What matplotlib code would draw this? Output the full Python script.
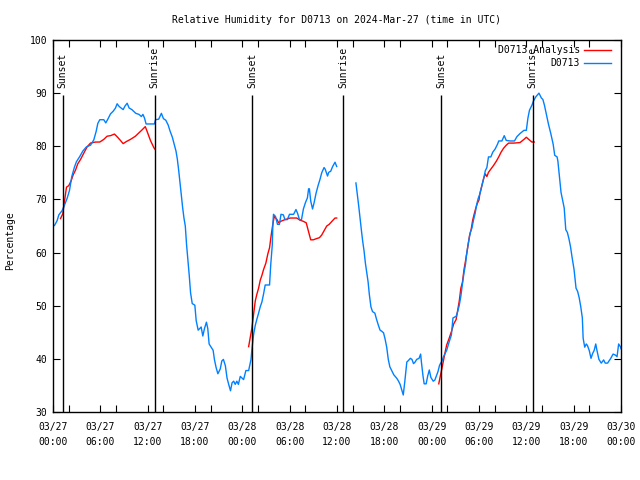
import numpy as np
import matplotlib
matplotlib.use("Agg")
import matplotlib.pyplot as plt
from matplotlib.ticker import FixedLocator

# hours since 2024-03-27 00:00 UTC
blue_h = [0.19, 0.52, 0.74, 1.16, 1.45, 1.79, 2.09, 2.38, 2.72, 2.97, 3.40, 3.78, 4.24, 4.75, 5.17, 5.47,
          5.68, 5.93, 6.44, 6.69, 6.95, 7.29, 7.63, 7.92, 8.13, 8.38, 8.63, 8.89, 9.14, 9.40, 9.65, 10.0,
          10.5, 10.9, 11.2, 11.4, 11.6, 11.8, 12.85, 13.0, 13.4, 13.74, 14.0, 14.3, 14.6, 14.83, 15.13,
          15.34, 15.59, 15.76, 15.93, 16.1, 16.26, 16.43, 16.6, 16.77, 16.93, 17.1, 17.27, 17.44, 17.65,
          17.98, 18.15, 18.4, 18.6, 18.78, 18.99, 19.2, 19.45, 19.62, 19.79, 20.04, 20.3, 20.46, 20.67,
          20.9, 21.2, 21.4, 21.6, 21.85, 22.06, 22.27, 22.5, 22.7, 22.9, 23.1, 23.3, 23.5, 23.74, 23.95,
          24.16, 24.45, 24.8, 25.1, 25.2, 25.43, 25.64, 25.85, 26.06, 26.27, 26.48, 26.69, 26.9, 27.45,
          27.6, 27.8, 27.87, 27.95, 28.2, 28.46, 28.7, 28.9, 29.2, 29.4, 29.7, 29.98, 30.5, 30.8, 31.0,
          31.24, 31.5, 31.74, 32.0, 32.25, 32.4, 32.5, 32.67, 32.9, 33.1, 33.35, 33.6, 33.85, 34.06,
          34.36, 34.5, 34.8, 34.95, 35.2, 35.45, 35.75, 35.96, 37.0,
          38.4, 38.58, 38.75, 38.92, 39.1, 39.26, 39.43, 39.6, 39.77, 39.94, 40.1, 40.3, 40.5, 40.8,
          41.0, 41.25, 41.46, 41.67, 41.9, 42.1, 42.3, 42.5, 42.7, 42.9, 43.2, 43.6, 43.8, 44.0, 44.4,
          44.6, 44.85, 45.06, 45.3, 45.5, 45.7, 45.9, 46.1, 46.4, 46.6, 46.7, 46.9, 47.05, 47.3, 47.5,
          47.7, 47.9, 48.2, 48.4, 48.6, 48.8, 49.0, 49.3, 49.5, 49.9, 50.2, 50.5, 50.7, 51.1, 51.3,
          51.5, 51.7, 51.9, 52.1, 52.3, 52.4, 52.6, 52.9, 53.1, 53.3, 53.5, 53.7, 53.9, 54.1, 54.3,
          54.6, 54.8, 55.0, 55.2, 55.5, 55.75, 56.05, 56.35, 56.5, 56.9, 57.2, 57.45, 57.97, 58.5,
          58.8, 59.2, 59.7, 60.0, 60.2, 60.4, 60.7, 60.9, 61.2, 61.6, 61.9, 62.1, 62.3, 62.6, 62.8,
          63.1, 63.4, 63.6, 63.9, 64.0, 64.2, 64.4, 64.6, 64.8, 65.0, 65.2, 65.4, 65.6, 65.8, 66.05,
          66.3, 66.5, 66.7, 66.9, 67.1, 67.2, 67.4, 67.6, 67.75, 67.97, 68.2, 68.4, 68.6, 68.8, 68.95,
          69.2, 69.5, 69.8, 70.0, 70.3, 70.7, 71.0, 71.3, 71.5, 71.7, 71.96, 72.0]
blue_v = [65.1, 66.0, 67.1, 67.9, 68.9, 70.2, 71.7, 74.3, 76.1, 77.1, 78.1, 79.1, 79.9, 80.2, 81.2, 82.8,
          84.3, 85.0, 85.0, 84.4, 85.1, 86.1, 86.6, 87.2, 88.0, 87.5, 87.2, 86.9, 87.6, 88.1, 87.2, 86.9,
          86.2, 86.0, 85.6, 86.0, 85.3, 84.2, 84.2, 85.0, 85.1, 86.2, 85.2, 84.9, 84.0, 82.9, 81.7,
          80.5, 79.1, 77.6, 75.5, 73.2, 70.9, 68.5, 66.5, 65.0, 61.5, 58.6, 55.7, 52.4, 50.4,
          50.1, 47.2, 45.4, 45.7, 46.0, 44.3, 45.7, 46.9, 45.7, 42.8, 42.2, 41.6, 39.9, 38.4,
          37.2, 38.1, 39.6, 39.9, 38.7, 36.4, 35.2, 34.0, 35.5, 35.8, 35.2, 35.8, 35.2, 36.7, 36.4,
          36.1, 37.8, 37.8, 39.9, 41.6, 44.6, 46.3, 47.5, 48.6, 49.8, 50.7, 52.2, 53.9, 53.9,
          57.7, 61.5, 65.3, 67.2, 66.8, 65.3, 65.3, 67.2, 67.1, 66.2, 66.2, 67.2, 67.2, 68.1, 67.4,
          66.2, 66.2, 68.2, 69.4, 70.3, 72.0, 72.0, 69.7, 68.2, 69.4, 71.2, 72.6, 73.8, 75.0,
          76.0, 75.7, 74.4, 75.1, 75.3, 76.2, 77.0, 76.2, np.nan,
          73.1, 70.9, 68.8, 66.5, 64.1, 62.1, 60.3, 58.0, 56.2, 54.5, 52.1, 49.8, 48.9, 48.6,
          47.5, 46.3, 45.4, 45.2, 44.9, 43.7, 42.2, 39.9, 38.5, 37.9, 37.0, 36.3, 35.8, 35.2, 33.2,
          35.8, 39.4, 39.7, 40.1, 39.9, 39.1, 39.4, 39.9, 40.1, 40.9, 39.4, 36.8, 35.3, 35.3, 36.8,
          37.9, 36.5, 35.8, 36.0, 36.8, 37.6, 38.8, 39.6, 40.4, 41.6, 43.1, 44.5, 47.7, 48.0, 48.9,
          50.1, 51.8, 54.1, 56.2, 57.9, 59.4, 61.4, 63.8, 64.6, 66.1, 67.3, 69.0, 70.2, 71.0, 72.2,
          74.0, 75.4, 76.0, 78.0, 78.0, 78.9, 79.5, 80.4, 81.0, 81.0, 82.0, 81.1, 81.0, 81.0,
          81.8, 82.4, 83.0, 83.0, 85.3, 86.8, 87.7, 88.5, 89.3, 90.0, 89.1, 88.8, 87.7, 85.6, 84.2,
          82.4, 80.4, 78.3, 78.0, 77.2, 74.3, 71.3, 69.9, 68.4, 64.3, 63.8, 62.6, 61.1, 59.1, 56.8,
          53.3, 52.7, 51.5, 49.8, 47.7, 43.9, 42.2, 42.8, 42.5, 41.6, 40.1, 41.0, 41.6, 42.8, 41.6,
          39.9, 39.2, 39.8, 39.2, 39.2, 40.1, 40.9, 40.7, 40.4, 42.8, 42.2, 41.9]

red_h = [0.95, 1.24, 1.45, 1.71, 2.0, 2.3, 2.55, 2.85, 3.14, 3.48, 3.9, 4.33, 4.75, 5.38, 5.93, 6.44,
         6.86, 7.29, 7.79, 8.13, 8.55, 8.89, 9.31, 9.82, 10.45, 10.87, 11.3, 11.7, 11.93, 12.35, 12.8,
         12.95, 18.0,
         24.8, 25.0, 25.2, 25.43, 25.64, 25.85, 26.06, 26.27, 26.48, 26.69, 26.98, 27.24, 27.45, 27.66,
         27.83, 28.04, 28.4, 28.6, 28.9, 29.4, 30.06, 30.9, 31.3, 31.7, 32.1, 32.4, 32.67, 33.0, 33.35,
         33.77, 34.06, 34.36, 34.7, 35.0, 35.37, 35.75, 35.96, 42.0,
         48.9, 49.1, 49.3, 49.5, 49.7, 49.9, 50.2, 50.5, 50.8, 51.1, 51.5, 51.7, 51.9, 52.1, 52.3,
         52.5, 52.8, 53.0, 53.2, 53.4, 53.6, 53.8, 54.0, 54.1, 54.35, 54.6, 54.8, 55.0, 55.2, 55.5,
         55.8, 56.2, 56.5, 56.8, 57.1, 57.45, 57.75, 58.4, 59.2, 59.7, 60.0, 60.3, 60.7, 61.0]
red_v = [66.4, 67.3, 69.6, 72.3, 72.6, 73.5, 74.6, 75.5, 76.7, 77.5, 78.7, 79.9, 80.6, 80.8, 80.8, 81.3,
         81.9, 82.0, 82.3, 81.8, 81.1, 80.5, 80.9, 81.3, 81.9, 82.5, 83.1, 83.7, 82.8, 81.1, 79.7,
         79.4, np.nan,
         42.3, 44.0, 45.7, 48.4, 50.9, 52.2, 53.3, 54.8, 55.7, 56.8, 58.0, 59.8, 60.9, 63.3,
         65.0, 66.8, 66.2, 65.6, 65.9, 66.2, 66.5, 66.5, 66.1, 65.9, 65.6, 63.9, 62.4, 62.4, 62.6,
         62.8, 63.3, 64.1, 65.0, 65.3, 65.9, 66.5, 66.5, np.nan,
         35.3, 36.8, 38.2, 39.7, 41.2, 42.6, 43.8, 45.1, 46.6, 47.4, 50.9, 53.3, 54.4, 56.8, 58.5,
         60.3, 63.2, 64.3, 66.1, 67.3, 68.4, 69.3, 69.9, 71.0, 72.5, 74.0, 74.8, 74.3, 75.1, 75.7,
         76.3, 77.2, 78.0, 78.9, 79.6, 80.2, 80.6, 80.6, 80.7, 81.3, 81.7, 81.3, 80.8, 80.8]

event_h = [1.25, 12.9, 25.25, 36.8, 49.2, 60.8]
event_names = ["Sunset", "Sunrise", "Sunset", "Sunrise", "Sunset", "Sunrise"]

tick_h = list(range(0, 73, 6))
tick_labels = ["03/27\n00:00", "03/27\n06:00", "03/27\n12:00", "03/27\n18:00",
               "03/28\n00:00", "03/28\n06:00", "03/28\n12:00", "03/28\n18:00",
               "03/29\n00:00", "03/29\n06:00", "03/29\n12:00", "03/29\n18:00",
               "03/30\n00:00"]

plt.rcParams['font.family'] = ['DejaVu Sans Mono']
plt.rcParams['font.size'] = 7

fig = plt.figure(figsize=(6.4, 4.8), dpi=100)
ax = fig.add_axes([53/640, 1-412/480, (621-53)/640, 372/480])

ax.plot(red_h, red_v, color='#ff0000', lw=1.0, label='D0713 Analysis')
ax.plot(blue_h, blue_v, color='#0080ff', lw=1.0, label='D0713')

for h, name in zip(event_h, event_names):
    ax.vlines(h, 30, 89.7, color='black', lw=1.0)
    ax.text(h, 90.9, name, rotation=90, ha='center', va='bottom', fontsize=7)

ax.set_xlim(0, 72)
ax.set_ylim(30, 100)
ax.set_xticks(tick_h)
ax.set_xticklabels(tick_labels, linespacing=1.6)
ax.xaxis.set_minor_locator(FixedLocator([h + 2 for h in range(0, 72, 6)]))
ax.set_yticks(range(30, 101, 10))
ax.tick_params(which='both', direction='in', top=True, right=True, length=5, width=0.8)
ax.tick_params(axis='x', which='major', pad=7)
ax.tick_params(axis='y', pad=4)
ax.set_ylabel('Percentage', fontsize=7)
ax.yaxis.set_label_coords(-0.067, 0.46)
ax.set_title('Relative Humidity for D0713 on 2024-Mar-27 (time in UTC)', pad=12, fontsize=7)
for s in ax.spines.values():
    s.set_linewidth(1.0)

ax.legend(loc='upper right', bbox_to_anchor=(0.989, 0.997), frameon=False, markerfirst=False,
          handlelength=2.8, borderaxespad=0.0, labelspacing=0.3, handletextpad=0.4, fontsize=7)

fig.savefig('out.png', dpi=100)
